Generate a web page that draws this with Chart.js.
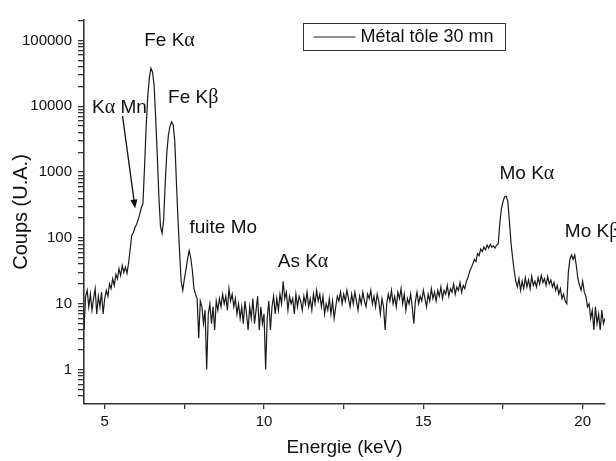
<!DOCTYPE html>
<html>
<head>
<meta charset="utf-8">
<title>Spectre - Métal tôle 30 mn</title>
<script src="https://cdn.jsdelivr.net/npm/chart.js@4.4.1/dist/chart.umd.min.js"></script>
<style>
  html, body { margin: 0; padding: 0; background: #fff; }
  canvas { display: block; }
</style>
</head>
<body>
<canvas id="chart" width="616" height="461"></canvas>
<script>
// calibration of the channels (keV)
const energyStart = 4.35;
const energyStep = 0.05;

// counts, one line per keV
const counts = [
  4, 13, 16, 9, 14, 8, 12, 17, 7, 13, 9, 15, 7,                                            // 4.35 - 4.95
  12, 16, 13, 20, 17, 24, 19, 28, 24, 34, 27, 38, 30, 36, 29, 42, 68, 110, 120, 145,       // 5
  160, 190, 230, 290, 330, 1200, 4800, 14000, 27000, 38000,
  33000, 21000, 6500, 1800, 420, 150, 118, 190, 700, 2000,                                 // 6
  3700, 5000, 5800, 5200, 2900, 700, 190, 60, 22, 16, 24, 33, 48, 64, 50, 32, 17, 14, 12, 3, // 7
  11, 9, 5, 8, 1, 7, 10, 5, 9, 4, 11, 8, 12, 9, 14, 10, 13, 8, 17, 11,                     // 8
  14, 9, 12, 7, 10, 6, 9, 5, 11, 7, 4, 9, 6, 12, 5, 8, 13, 4, 9, 5,                        // 9
  7, 1, 6, 11, 4, 9, 13, 7, 12, 8, 14, 10, 22, 12, 15, 8, 13, 10, 12, 7,                   // 10
  14, 9, 13, 11, 8, 13, 10, 15, 9, 12, 8, 14, 10, 16, 11, 14, 9, 13, 7, 10,                // 11
  8, 12, 7, 11, 6, 9, 13, 11, 15, 10, 14, 11, 16, 12, 9, 14, 10, 15, 11, 8,                // 12
  13, 10, 15, 11, 9, 14, 12, 16, 10, 13, 9, 14, 11, 7, 12, 9, 4, 10, 14, 11,               // 13
  16, 10, 13, 9, 15, 12, 17, 10, 14, 8, 12, 10, 14, 9, 5, 11, 15, 10, 13, 11,              // 14
  16, 12, 9, 14, 11, 17, 12, 15, 11, 16, 13, 18, 12, 16, 14, 19, 13, 17, 15, 20,           // 15
  14, 18, 16, 21, 15, 19, 17, 22, 25, 31, 35, 40, 47, 44, 58, 54, 68, 62, 73, 66,          // 16
  78, 70, 80, 72, 76, 70, 78, 82, 170, 280, 360, 420, 430, 360, 180, 85, 50, 32, 22, 18,   // 17
  24, 16, 22, 17, 25, 18, 23, 17, 26, 19, 22, 18, 25, 20, 27, 21, 24, 19, 26, 20,          // 18
  23, 18, 21, 16, 19, 14, 17, 12, 14, 11, 10, 30, 48, 55, 47, 55, 38, 24, 19, 16,          // 19
  22, 15, 13, 9, 10, 6, 8, 4, 9, 5, 7, 4, 8, 5, 6                                          // 20 - 20.70
];

const energies = counts.map((c, i) => +(energyStart + i * energyStep).toFixed(2));

const xTicks = [5, 7.5, 10, 12.5, 15, 17.5, 20];
const yDecades = [1, 10, 100, 1000, 10000, 100000];

// peak annotations, anchored in data units (keV, counts)
const peakNames = ['Fe Kα', 'Fe Kβ', 'Kα Mn', 'fuite Mo', 'As Kα', 'Mo Kα', 'Mo Kβ'];
const peakNameE = [6.24, 6.99, 4.6, 7.66, 10.43, 17.39, 19.44];
const peakNameC = [100000, 13600, 9600, 143, 44, 935, 124];
const arrowFrom = [5.56, 7100];
const arrowTo = [5.955, 280];

const seriesName = 'Métal tôle 30 mn';

const yMin = 0.333, yMax = 205000;
const yTickValues = [];
[0.1, 1, 10, 100, 1000, 10000, 100000].forEach(d => {
  for (let k = 1; k <= 9; k++) {
    const v = parseFloat((k * d).toPrecision(3));
    if (v >= yMin && v <= yMax) yTickValues.push(v);
  }
});

const SANS = '"Liberation Sans", Arial, sans-serif';
const SERIF = '"Liberation Serif", "Times New Roman", serif';
const INK = '#111';

function drawMixed(ctx, text, x, y, size) {
  // greek letters in a serif face, like the original
  text.split(/([α-ω])/).forEach(part => {
    if (!part) return;
    const greek = /[α-ω]/.test(part);
    ctx.font = (greek ? size + 1 : size) + 'px ' + (greek ? SERIF : SANS);
    ctx.fillText(part, x, y);
    x += ctx.measureText(part).width;
  });
}

const overlay = {
  id: 'overlay',
  afterDatasetsDraw(chart) {
    const {ctx, chartArea, scales: {x, y}} = chart;
    ctx.save();
    ctx.fillStyle = INK;
    ctx.textBaseline = 'middle';
    ctx.textAlign = 'left';
    peakNames.forEach((name, i) => {
      drawMixed(ctx, name, x.getPixelForValue(peakNameE[i]), y.getPixelForValue(peakNameC[i]), 19);
    });

    // arrow to the Mn shoulder
    const x0 = x.getPixelForValue(arrowFrom[0]), y0 = y.getPixelForValue(arrowFrom[1]);
    const x1 = x.getPixelForValue(arrowTo[0]), y1 = y.getPixelForValue(arrowTo[1]);
    const ang = Math.atan2(y1 - y0, x1 - x0);
    ctx.strokeStyle = INK;
    ctx.lineWidth = 1.3;
    ctx.beginPath();
    ctx.moveTo(x0, y0);
    ctx.lineTo(x1 - 6 * Math.cos(ang), y1 - 6 * Math.sin(ang));
    ctx.stroke();
    ctx.beginPath();
    ctx.moveTo(x1, y1);
    ctx.lineTo(x1 - 9 * Math.cos(ang) + 3.5 * Math.sin(ang), y1 - 9 * Math.sin(ang) - 3.5 * Math.cos(ang));
    ctx.lineTo(x1 - 9 * Math.cos(ang) - 3.5 * Math.sin(ang), y1 - 9 * Math.sin(ang) + 3.5 * Math.cos(ang));
    ctx.closePath();
    ctx.fill();

    // legend box
    const lx = chartArea.left + 219.5, ly = chartArea.top + 3.5;
    ctx.strokeStyle = '#333';
    ctx.lineWidth = 1;
    ctx.strokeRect(lx, ly, 202, 27);
    ctx.strokeStyle = '#222';
    ctx.beginPath();
    ctx.moveTo(lx + 10, ly + 13.5);
    ctx.lineTo(lx + 52, ly + 13.5);
    ctx.stroke();
    ctx.font = '18px ' + SANS;
    ctx.fillText(chart.data.datasets[0].label, lx + 57, ly + 14);
    ctx.restore();
  }
};

new Chart(document.getElementById('chart'), {
  type: 'line',
  data: {
    datasets: [{
      label: seriesName,
      data: energies.map((e, i) => ({x: e, y: counts[i]})),
      borderColor: '#1a1a1a',
      borderWidth: 1.2,
      pointRadius: 0,
      tension: 0,
      fill: false
    }]
  },
  options: {
    responsive: false,
    animation: false,
    events: [],
    layout: {padding: {top: 20, right: 11, left: 0, bottom: 0}},
    plugins: {legend: {display: false}, tooltip: {enabled: false}},
    scales: {
      x: {
        type: 'linear',
        min: 4.35,
        max: 20.7,
        afterBuildTicks: s => { s.ticks = xTicks.map(v => ({value: v})); },
        afterFit: s => { s.height = 57; },
        grid: {drawOnChartArea: false, drawTicks: true, tickLength: 5, color: '#333', lineWidth: 1.3},
        border: {display: true, color: '#333', width: 1.6},
        ticks: {
          autoSkip: false,
          maxRotation: 0,
          padding: 4,
          color: INK,
          font: {family: SANS, size: 15},
          callback: v => Number.isInteger(v) ? String(v) : ''
        },
        title: {display: true, text: 'Energie (keV)', color: INK, font: {family: SANS, size: 19}, padding: {top: 0, bottom: 2}}
      },
      y: {
        type: 'logarithmic',
        min: yMin,
        max: yMax,
        afterBuildTicks: s => { s.ticks = yTickValues.map(v => ({value: v})); },
        afterFit: s => { s.width = 84; },
        grid: {drawOnChartArea: false, drawTicks: true, tickLength: 6, color: '#333', lineWidth: 1.3},
        border: {display: true, color: '#333', width: 1.6},
        ticks: {
          autoSkip: false,
          padding: 6,
          color: INK,
          font: {family: SANS, size: 15},
          callback: v => yDecades.includes(v) ? String(v) : ''
        },
        title: {display: true, text: 'Coups (U.A.)', color: INK, font: {family: SANS, size: 20}, padding: {top: 9, bottom: 0}}
      }
    }
  },
  plugins: [overlay]
});
</script>
</body>
</html>
